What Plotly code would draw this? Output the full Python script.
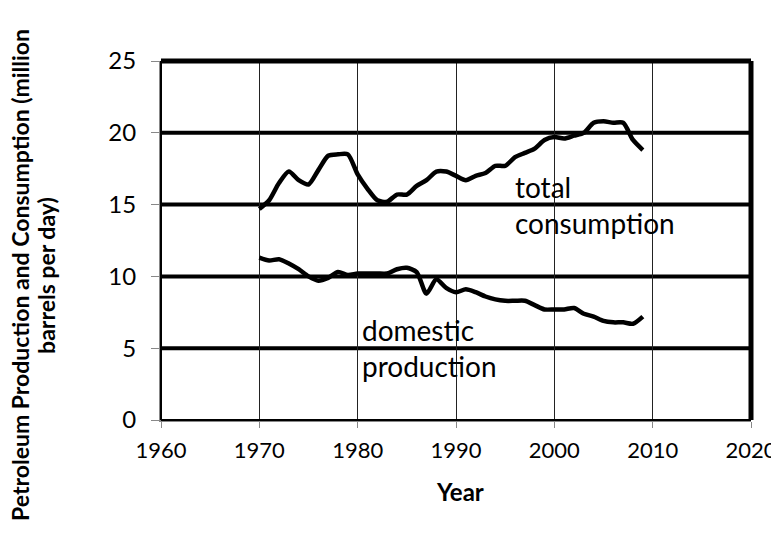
import plotly.graph_objects as go

years = list(range(1970, 2010))
consumption = [14.7, 15.3, 16.5, 17.3, 16.7, 16.4, 17.4, 18.4, 18.5, 18.5,
               17.1, 16.1, 15.3, 15.2, 15.7, 15.7, 16.3, 16.7, 17.3, 17.3,
               17.0, 16.7, 17.0, 17.2, 17.7, 17.7, 18.3, 18.6, 18.9, 19.5,
               19.7, 19.6, 19.8, 20.0, 20.7, 20.8, 20.7, 20.7, 19.5, 18.8]
production = [11.3, 11.1, 11.2, 10.9, 10.5, 10.0, 9.7, 9.9, 10.3, 10.1,
              10.2, 10.2, 10.2, 10.2, 10.5, 10.6, 10.3, 8.8, 9.8, 9.2,
              8.9, 9.1, 8.9, 8.6, 8.4, 8.3, 8.3, 8.3, 8.0, 7.7,
              7.7, 7.7, 7.8, 7.4, 7.2, 6.9, 6.8, 6.8, 6.7, 7.2]

x_ticks = [1960, 1970, 1980, 1990, 2000, 2010, 2020]
y_ticks = [0, 5, 10, 15, 20, 25]

font = 'Lato, Calibri, sans-serif'

fig = go.Figure()
for name, vals in [('total consumption', consumption), ('domestic production', production)]:
    fig.add_trace(go.Scatter(
        x=years, y=vals, mode='lines', name=name,
        line=dict(color='black', width=4.5, shape='spline', smoothing=0.7)
    ))

# thick horizontal gridlines
for v in y_ticks[1:-1]:
    fig.add_shape(type='line', xref='paper', yref='y', x0=0, x1=1, y0=v, y1=v,
                  line=dict(color='black', width=4), layer='below')

# plot border: heavy on top and right
fig.add_shape(type='line', xref='paper', yref='paper', x0=0, x1=1, y0=1, y1=1,
              line=dict(color='black', width=5))
fig.add_shape(type='line', xref='paper', yref='paper', x0=1, x1=1, y0=0, y1=1,
              line=dict(color='black', width=5))
fig.add_shape(type='line', xref='paper', yref='paper', x0=0, x1=1, y0=0, y1=0,
              line=dict(color='black', width=2))
fig.add_shape(type='line', xref='paper', yref='paper', x0=0, x1=0, y0=0, y1=1,
              line=dict(color='black', width=2))

fig.add_annotation(x=1995.8, y=15.0, text='total<br>consumption', showarrow=False,
                   xanchor='left', yanchor='middle', align='left',
                   font=dict(size=28, color='black', family=font))
fig.add_annotation(x=1980.2, y=5.0, text='domestic<br>production', showarrow=False,
                   xanchor='left', yanchor='middle', align='left',
                   font=dict(size=28, color='black', family=font))

# y title as two separate lines (tighter spacing than plotly's <br>)
ytitle = ['Petroleum Production and Consumption (million', 'barrels per day)']
for xp, line in zip([-0.2390, -0.1950], ytitle):
    fig.add_annotation(xref='paper', yref='paper', x=xp, y=0.404,
                       xanchor='center', yanchor='middle',
                       text=f'<b>{line}</b>', textangle=-90, showarrow=False,
                       font=dict(size=23, color='black', family=font))
fig.add_annotation(xref='paper', yref='paper', x=0.507, y=-0.20,
                   xanchor='center', yanchor='middle',
                   text='<b>Year</b>', showarrow=False,
                   font=dict(size=24, color='black', family=font))

fig.update_layout(
    width=771, height=520,
    margin=dict(l=153, r=28, t=53, b=108, autoexpand=False),
    plot_bgcolor='white', paper_bgcolor='white',
    showlegend=False,
    font=dict(family=font, color='black', size=24),
    xaxis=dict(
        range=[1960, 2020], tickvals=x_ticks, showgrid=True, gridcolor='#222', gridwidth=1,
        zeroline=False, showline=True, linecolor='#888', linewidth=2,
        ticks='outside', ticklen=6, tickcolor='#888', tickfont=dict(size=22),
        ticklabelstandoff=4, ticklabeloverflow='allow', automargin=False,
    ),
    yaxis=dict(
        range=[0, 25], tickvals=y_ticks, showgrid=False,
        zeroline=False, showline=True, linecolor='#888', linewidth=2,
        ticks='outside', ticklen=8, tickcolor='#888', tickfont=dict(size=24),
        ticklabelstandoff=10, automargin=False,
    ),
)

fig.write_html('out.html')
